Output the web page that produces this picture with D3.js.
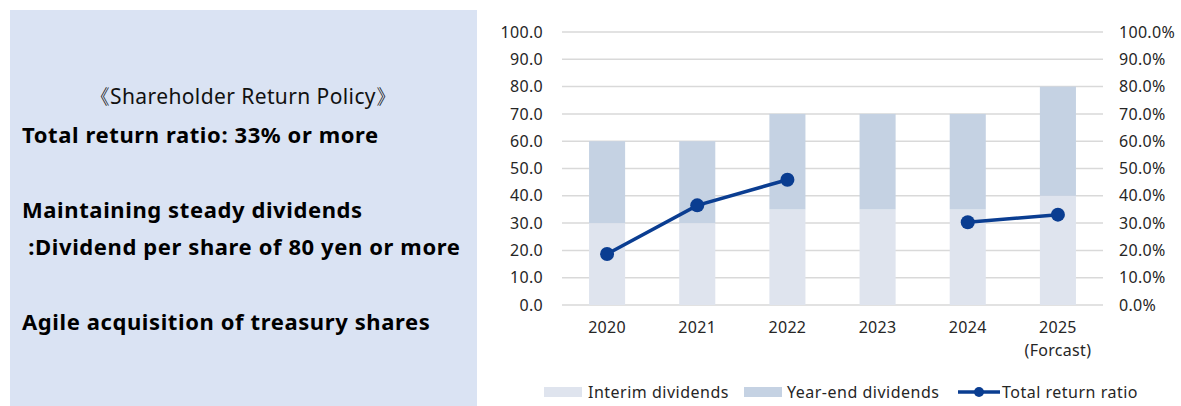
<!DOCTYPE html>
<html>
<head>
<meta charset="utf-8">
<script src="https://cdn.jsdelivr.net/npm/d3@7"></script>
<style>
  body { margin: 0; background: #fff; }
  svg { display: block; font-family: "Noto Sans", "Open Sans", sans-serif; }
</style>
</head>
<body>
<div id="chart"></div>
<script>
const years = ["2020", "2021", "2022", "2023", "2024", "2025"];
const yearNotes = ["", "", "", "", "", "(Forcast)"];
const interim = [30, 30, 35, 35, 35, 40];
const yearEnd = [30, 30, 35, 35, 35, 40];
const returnRatio = [18.7, 36.5, 45.9, null, 30.3, 33.1];
const leftTicks = [0, 10, 20, 30, 40, 50, 60, 70, 80, 90, 100];
const policyTitle = "《Shareholder Return Policy》";
const policyLines = [
  "Total return ratio: 33% or more",
  "Maintaining steady dividends",
  " :Dividend per share of 80 yen or more",
  "Agile acquisition of treasury shares"
];
const legendLabels = ["Interim dividends", "Year-end dividends", "Total return ratio"];

const width = 1181, height = 406;
const colors = { interim: "#dfe4ee", yearEnd: "#c5d2e3", line: "#0a3d91", grid: "#d9d9d9", text: "#262626" };

const svg = d3.select("#chart").append("svg")
  .attr("width", width)
  .attr("height", height);

// left text panel
svg.append("rect")
  .attr("x", 10).attr("y", 10)
  .attr("width", 467).attr("height", 396)
  .attr("fill", "#dae3f3");

svg.append("text")
  .attr("x", 243).attr("y", 104)
  .attr("text-anchor", "middle")
  .attr("font-size", 21)
  .attr("letter-spacing", 0.4)
  .attr("fill", "#111")
  .text(policyTitle);

const lineY = [143, 218, 255, 330];
svg.selectAll(".policy")
  .data(policyLines)
  .join("text")
  .attr("class", "policy")
  .attr("x", 22)
  .attr("y", (d, i) => lineY[i])
  .attr("font-size", 22)
  .attr("letter-spacing", 0.6)
  .attr("font-weight", "bold")
  .attr("fill", "#000")
  .attr("xml:space", "preserve")
  .style("white-space", "pre")
  .text(d => d);

// chart
const plot = { left: 562, right: 1103, top: 32, bottom: 305 };

const x = d3.scaleBand(years, [plot.left, plot.right]).paddingInner(0.6).paddingOuter(0.3);
const y = d3.scaleLinear([0, 100], [plot.bottom, plot.top]);
const y2 = d3.scaleLinear([0, 100], [plot.bottom, plot.top]);

svg.append("g")
  .selectAll("line")
  .data(leftTicks)
  .join("line")
  .attr("x1", plot.left).attr("x2", plot.right)
  .attr("y1", d => y(d)).attr("y2", d => y(d))
  .attr("stroke", colors.grid)
  .attr("stroke-width", 1.5);

const leftAxis = svg.append("g")
  .attr("transform", `translate(${plot.left - 19},0)`)
  .call(d3.axisLeft(y).tickValues(leftTicks).tickFormat(d3.format(".1f")).tickSize(0).tickPadding(0));
leftAxis.select(".domain").remove();

const rightAxis = svg.append("g")
  .attr("transform", `translate(${plot.right + 16},0)`)
  .call(d3.axisRight(y2).tickValues(leftTicks).tickFormat(d => d3.format(".1f")(d) + "%").tickSize(0).tickPadding(0));
rightAxis.select(".domain").remove();

svg.selectAll(".tick text")
  .attr("font-size", 16)
  .attr("letter-spacing", 0.3)
  .attr("font-family", "\"Noto Sans\", sans-serif")
  .attr("fill", colors.text);

// stacked bars
const bars = years.map((yr, i) => ({ yr, interim: interim[i], yearEnd: yearEnd[i] }));

svg.append("g").selectAll("rect")
  .data(bars)
  .join("rect")
  .attr("x", d => x(d.yr))
  .attr("width", x.bandwidth())
  .attr("y", d => y(d.interim))
  .attr("height", d => y(0) - y(d.interim))
  .attr("fill", colors.interim);

svg.append("g").selectAll("rect")
  .data(bars)
  .join("rect")
  .attr("x", d => x(d.yr))
  .attr("width", x.bandwidth())
  .attr("y", d => y(d.interim + d.yearEnd))
  .attr("height", d => y(d.interim) - y(d.interim + d.yearEnd))
  .attr("fill", colors.yearEnd);

// x labels
const cx = d => x(d) + x.bandwidth() / 2;
svg.append("g").selectAll("text")
  .data(years)
  .join("text")
  .attr("x", cx)
  .attr("y", 333)
  .attr("text-anchor", "middle")
  .attr("font-size", 16)
  .attr("letter-spacing", 0.3)
  .attr("fill", colors.text)
  .text(d => d);

svg.append("g").selectAll("text")
  .data(years.map((yr, i) => ({ yr, note: yearNotes[i] })).filter(d => d.note))
  .join("text")
  .attr("x", d => cx(d.yr))
  .attr("y", 356)
  .attr("text-anchor", "middle")
  .attr("font-size", 16)
  .attr("letter-spacing", 0.3)
  .attr("fill", colors.text)
  .text(d => d.note);

// return ratio line
const pts = years.map((yr, i) => ({ yr, v: returnRatio[i] }));
const line = d3.line()
  .defined(d => d.v != null)
  .x(d => cx(d.yr))
  .y(d => y2(d.v));

svg.append("path")
  .attr("d", line(pts))
  .attr("fill", "none")
  .attr("stroke", colors.line)
  .attr("stroke-width", 3.5);

svg.append("g").selectAll("circle")
  .data(pts.filter(d => d.v != null))
  .join("circle")
  .attr("cx", d => cx(d.yr))
  .attr("cy", d => y2(d.v))
  .attr("r", 7)
  .attr("fill", colors.line);

// legend
const legend = svg.append("g").attr("font-size", 16).attr("letter-spacing", 0.5).attr("fill", colors.text);
const legendX = [544, 744, 958];
const ly = 392;

legend.append("rect").attr("x", legendX[0]).attr("y", ly - 5).attr("width", 38).attr("height", 10).attr("fill", colors.interim);
legend.append("rect").attr("x", legendX[1]).attr("y", ly - 5).attr("width", 38).attr("height", 10).attr("fill", colors.yearEnd);
legend.append("line").attr("x1", legendX[2]).attr("x2", legendX[2] + 42).attr("y1", ly).attr("y2", ly)
  .attr("stroke", colors.line).attr("stroke-width", 3.5);
legend.append("circle").attr("cx", legendX[2] + 21).attr("cy", ly).attr("r", 5).attr("fill", colors.line);

const legendTextX = [588, 787, 1002];
legend.selectAll("text")
  .data(legendLabels)
  .join("text")
  .attr("x", (d, i) => legendTextX[i])
  .attr("y", ly + 6)
  .text(d => d);
</script>
</body>
</html>
